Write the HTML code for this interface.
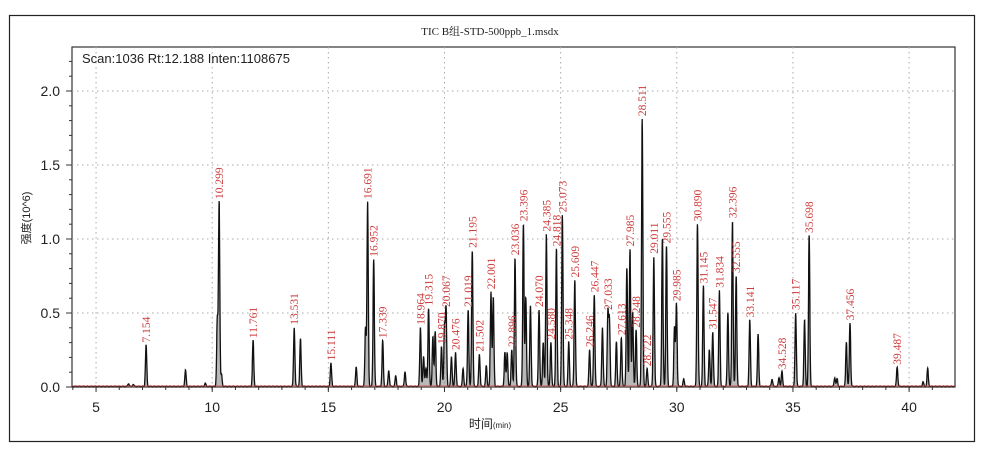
<!DOCTYPE html>
<html><head><meta charset="utf-8"><style>
html,body{margin:0;padding:0;background:#fff;}
svg{display:block}
.ax{font-family:"Liberation Sans",sans-serif;font-size:14px;fill:#222}
.lb{font-family:"Liberation Serif",serif;font-size:11.5px;fill:#cc3a3a}
</style></head><body>
<svg id="s" width="981" height="451" viewBox="0 0 981 451" xmlns="http://www.w3.org/2000/svg">
<rect x="0" y="0" width="981" height="451" fill="#fff"/>
<rect x="9.5" y="15.5" width="965" height="426" fill="none" stroke="#222" stroke-width="1.2"/>
<text x="490" y="35" text-anchor="middle" style="font-family:'Liberation Serif','Noto Serif CJK SC',serif;font-size:11px;fill:#222">TIC B组-STD-500ppb_1.msdx</text>
<rect x="72" y="47" width="883" height="340" fill="none" stroke="#333" stroke-width="1.2"/>
<g id="grid" stroke="#aaa" stroke-width="1" stroke-dasharray="1.5,3.5"></g>
<g id="ticks" stroke="#333" stroke-width="1"></g>
<g id="tl" class="ax"></g>
<text x="82" y="63" style="font-family:'Liberation Sans',sans-serif;font-size:13px;fill:#222">Scan:1036  Rt:12.188  Inten:1108675</text>
<text transform="translate(30,218) rotate(-90)" text-anchor="middle" style="font-family:'Liberation Sans','Noto Sans CJK SC',sans-serif;font-size:11px;fill:#222">强度(10^6)</text>
<text x="490" y="428" text-anchor="middle" style="font-family:'Liberation Sans','Noto Sans CJK SC',sans-serif;font-size:12px;fill:#222">时间<tspan font-size="8">(min)</tspan></text>
<path id="fill" fill="#8a8a8a" stroke="none"/>
<path id="curve" fill="none" stroke="#111" stroke-width="1.3"/>
<line x1="72" y1="386" x2="955" y2="386" stroke="#d04040" stroke-width="0.8"/>
<g id="labels" class="lb">
<text>7.154</text><text>10.299</text><text>11.761</text><text>13.531</text><text>15.111</text><text>16.691</text><text>16.952</text><text>17.339</text><text>18.964</text><text>19.315</text><text>19.870</text><text>20.067</text><text>20.476</text><text>21.019</text><text>21.195</text><text>21.502</text><text>22.001</text><text>22.896</text><text>23.036</text><text>23.396</text><text>24.070</text><text>24.385</text><text>24.580</text><text>24.818</text><text>25.073</text><text>25.348</text><text>25.609</text><text>26.246</text><text>26.447</text><text>27.033</text><text>27.613</text><text>27.985</text><text>28.248</text><text>28.511</text><text>28.722</text><text>29.011</text><text>29.555</text><text>29.985</text><text>30.890</text><text>31.145</text><text>31.547</text><text>31.834</text><text>32.396</text><text>32.555</text><text>33.141</text><text>34.528</text><text>35.117</text><text>35.698</text><text>37.456</text><text>39.487</text>
</g>
</svg>
<script>
var X=function(t){return -20.1+23.23*t}, Y=function(h){return 387-148*h};
var P=[[6.4,0.02],[6.6,0.015],[7.154,0.28],[8.85,0.11],[9.7,0.02],[10.22,0.45],[10.299,1.25],[10.4,0.08],[11.761,0.31],[13.531,0.40],[13.8,0.32],[15.111,0.16],[16.2,0.13],[16.6,0.4],[16.691,1.25],[16.952,0.86],[17.339,0.31],[17.6,0.11],[17.9,0.07],[18.3,0.1],[18.964,0.40],[19.1,0.2],[19.2,0.12],[19.315,0.53],[19.5,0.34],[19.6,0.37],[19.870,0.27],[20.0,0.4],[20.067,0.52],[20.3,0.2],[20.476,0.23],[20.8,0.12],[21.019,0.52],[21.195,0.92],[21.502,0.22],[21.8,0.14],[22.001,0.64],[22.1,0.6],[22.6,0.23],[22.7,0.23],[22.896,0.25],[23.036,0.87],[23.396,1.1],[23.5,0.6],[23.7,0.55],[24.070,0.52],[24.25,0.3],[24.385,1.03],[24.580,0.3],[24.818,0.93],[25.073,1.16],[25.348,0.3],[25.609,0.72],[26.246,0.25],[26.447,0.62],[26.8,0.4],[27.033,0.5],[27.1,0.45],[27.4,0.3],[27.613,0.33],[27.85,0.8],[27.985,0.93],[28.1,0.5],[28.248,0.38],[28.511,1.81],[28.722,0.12],[29.011,0.88],[29.38,1.0],[29.555,0.95],[29.9,0.4],[29.985,0.56],[30.3,0.05],[30.890,1.1],[31.145,0.68],[31.4,0.25],[31.547,0.37],[31.834,0.65],[32.2,0.5],[32.396,1.12],[32.555,0.75],[33.141,0.45],[33.5,0.35],[34.1,0.05],[34.4,0.06],[34.528,0.1],[35.117,0.5],[35.5,0.45],[35.698,1.02],[36.8,0.06],[36.9,0.05],[37.3,0.3],[37.456,0.43],[39.487,0.13],[40.6,0.03],[40.8,0.12]];
var sg=0.028,d="";
for(var t=3.96;t<=42.0;t+=0.008){var h=0.004+0.003*Math.sin(t*37);for(var i=0;i<P.length;i++){var z=(t-P[i][0])/sg;if(Math.abs(z)<5)h+=P[i][1]*Math.exp(-z*z/2);}
var x=X(t).toFixed(1),y=Y(h).toFixed(1);d+=(d?"L":"M")+x+","+y;}
document.getElementById("curve").setAttribute("d",d);
document.getElementById("fill").setAttribute("d",d+"L955,387L72,387Z");
document.getElementById("fill").setAttribute("opacity","0.6");
var g=document.getElementById("grid"),tk=document.getElementById("ticks"),tl=document.getElementById("tl"),ns="http://www.w3.org/2000/svg";
function el(p,n,a,txt){var e=document.createElementNS(ns,n);for(var k in a)e.setAttribute(k,a[k]);if(txt)e.textContent=txt;p.appendChild(e);}
for(var v=5;v<=40;v+=5){var x=X(v);el(g,"line",{x1:x,y1:47,x2:x,y2:387});el(tk,"line",{x1:x,y1:387,x2:x,y2:392});el(tl,"text",{x:x,y:412,"text-anchor":"middle"},""+v);}
for(var v=4;v<=42;v+=1){var x=X(v);if(x>72&&x<955)el(tk,"line",{x1:x,y1:387,x2:x,y2:390});}
for(var v=0;v<=2.0001;v+=0.5){var y=Y(v);if(v>0)el(g,"line",{x1:72,y1:y,x2:955,y2:y});el(tk,"line",{x1:66,y1:y,x2:72,y2:y});el(tl,"text",{x:60,y:y+5,"text-anchor":"end"},v.toFixed(1));}
for(var v=0.1;v<2.3;v+=0.1){el(tk,"line",{x1:69,y1:Y(v),x2:72,y2:Y(v)});}
var L=document.getElementById("labels").children;
for(var i=0;i<L.length;i++){var tt=parseFloat(L[i].textContent),hh=0.1;for(var j=0;j<P.length;j++)if(Math.abs(P[j][0]-tt)<0.001)hh=P[j][1];
L[i].setAttribute("transform","translate("+(X(tt)+4)+","+(Y(hh)-3)+") rotate(-90)");}
</script>
</body></html>
